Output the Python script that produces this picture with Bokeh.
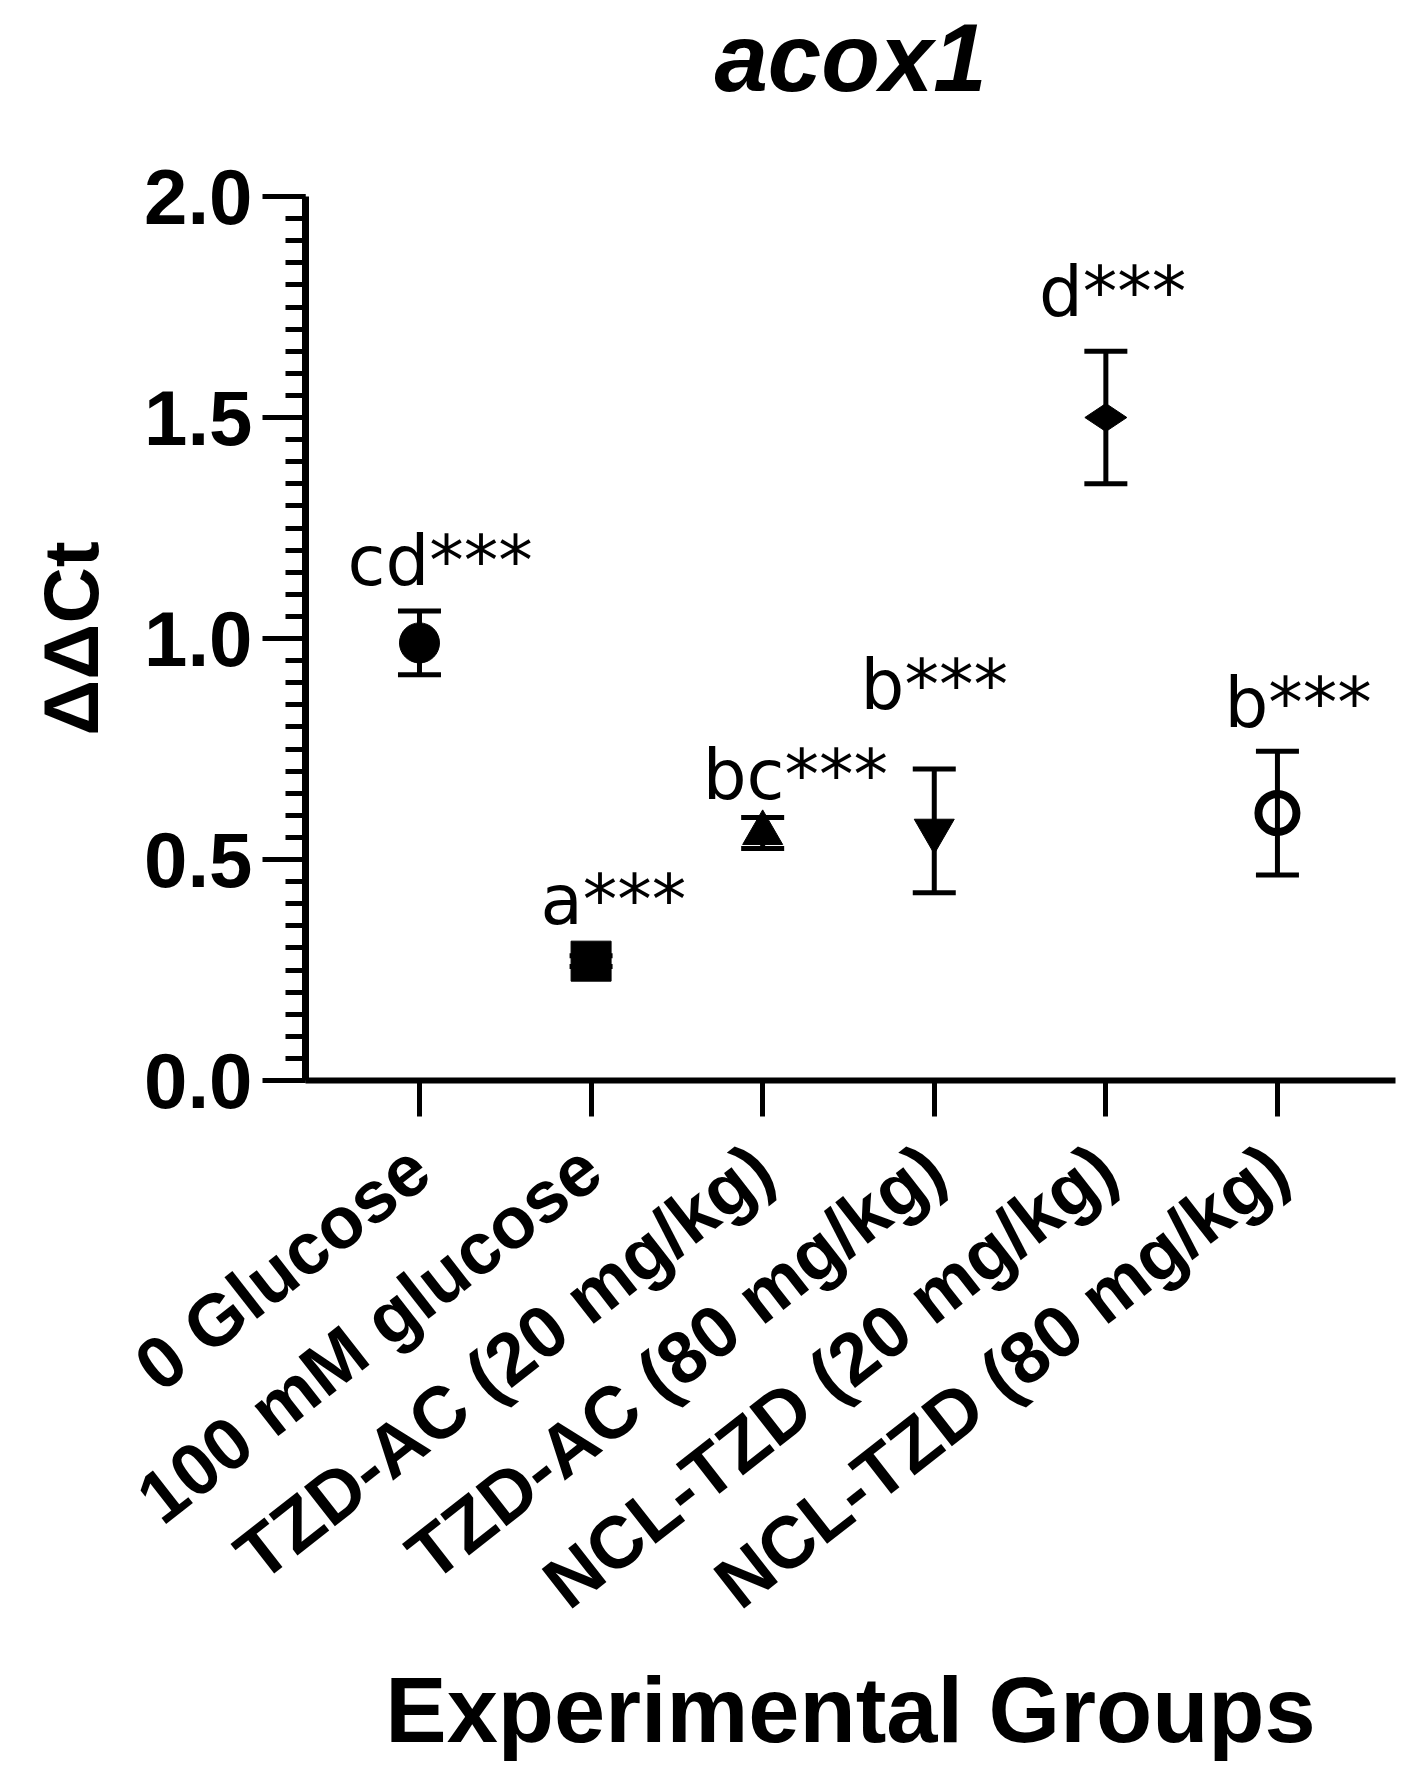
import math
from bokeh.plotting import figure
from bokeh.models import Range1d, FixedTicker, Whisker, ColumnDataSource, TeeHead, NumeralTickFormatter, Title
from bokeh.embed import file_html
from bokeh.resources import INLINE
from bokeh.core.properties import value

# ---- data ----
title_text = "acox1"
groups = ["0 Glucose", "100 mM glucose", "TZD-AC (20 mg/kg)", "TZD-AC (80 mg/kg)",
          "NCL-TZD (20 mg/kg)", "NCL-TZD (80 mg/kg)"]
means = [0.99, 0.27, 0.56, 0.565, 1.50, 0.605]
sems = [0.072, 0.012, 0.035, 0.14, 0.15, 0.14]
letters = ["cd***", "a***", "bc***", "b***", "d***", "b***"]
y_ticks = [0.0, 0.5, 1.0, 1.5, 2.0]

# ---- annotation placement / styles ----
label_y = [1.121, 0.353, 0.636, 0.84, 1.729, 0.80]
label_dx = [0.12, 0.13, 0.19, 0.0, 0.04, 0.12]
markers = ["circle", "square", "triangle", "inverted_triangle", "diamond", "circle"]
fills = ["black", "black", "black", "black", "black", None]
msizes = [40, 40, 40, 40, 42, 38]
mlw = [1, 1, 1, 1, 1, 8]
mangle = [0, 0, 0, 0, math.pi / 2, 0]

FONT = "Liberation Sans"
xs = list(range(1, len(groups) + 1))

p = figure(width=1410, height=1780, output_backend="svg", toolbar_location=None,
           x_range=Range1d(0.3357, 6.688), y_range=Range1d(0, 2),
           min_border_left=305, min_border_right=15, min_border_top=196, min_border_bottom=700)
p.grid.visible = False
p.outline_line_color = None
p.background_fill_color = "white"
p.border_fill_color = "white"

# spacer between plot area and title, then the title itself (stacked outward)
p.add_layout(Title(text=" ", text_font_size="10px", standoff=72), "above")
p.add_layout(Title(text=title_text, align="center", text_font=FONT, text_font_size="96px",
                   text_font_style="bold italic", text_color="black", standoff=2), "above")

# y axis
yax = p.yaxis[0]
yax.ticker = FixedTicker(ticks=y_ticks, minor_ticks=[i * 0.05 for i in range(41)])
yax.formatter = NumeralTickFormatter(format="0.0")
yax.axis_line_width = 7
yax.axis_line_color = "black"
yax.major_tick_line_width = 5
yax.minor_tick_line_width = 5
yax.major_tick_out = 43
yax.major_tick_in = 0
yax.minor_tick_out = 20
yax.minor_tick_in = 0
yax.major_label_text_font = FONT
yax.major_label_text_font_size = "78px"
yax.major_label_text_font_style = "bold"
yax.major_label_text_color = "black"
yax.major_label_standoff = 10
yax.axis_label = "ΔΔCt"
yax.axis_label_text_font = FONT
yax.axis_label_text_font_size = "78px"
yax.axis_label_text_font_style = "bold"
yax.axis_label_text_color = "black"
yax.axis_label_standoff = 26

# x axis
xax = p.xaxis[0]
xax.ticker = FixedTicker(ticks=xs)
xax.major_label_overrides = {x: g for x, g in zip(xs, groups)}
xax.axis_line_width = 6
xax.axis_line_color = "black"
xax.major_tick_line_width = 5
xax.major_tick_out = 36
xax.major_tick_in = 0
xax.minor_tick_line_color = None
xax.major_label_orientation = math.radians(38)
xax.major_label_text_font = FONT
xax.major_label_text_font_size = "73px"
xax.major_label_text_font_style = "bold"
xax.major_label_text_color = "black"
xax.major_label_standoff = 43
xax.axis_label = "Experimental Groups"
xax.axis_label_text_font = FONT
xax.axis_label_text_font_size = "92px"
xax.axis_label_text_font_style = "bold"
xax.axis_label_text_color = "black"
xax.axis_label_standoff = 1

src = ColumnDataSource(dict(
    x=xs, mean=means,
    upper=[m + s for m, s in zip(means, sems)],
    lower=[m - s for m, s in zip(means, sems)],
    marker=markers, fill=fills, size=msizes, lw=mlw, angle=mangle,
    lx=[x + d for x, d in zip(xs, label_dx)], ly=label_y, txt=letters,
))

p.add_layout(Whisker(base="x", upper="upper", lower="lower", source=src,
                     line_width=5, line_color="black",
                     upper_head=TeeHead(size=43, line_width=5, line_color="black"),
                     lower_head=TeeHead(size=43, line_width=5, line_color="black")))

p.scatter(x="x", y="mean", source=src, marker="marker", size="size",
          fill_color="fill", line_color="black", line_width="lw", angle="angle")

p.text(x="lx", y="ly", text="txt", source=src, text_align="center", text_baseline="alphabetic",
       y_offset=-24, text_font=value("DejaVu Sans"), text_font_size="69px", text_color="black")

open("out.html", "w").write(file_html(p, INLINE))
